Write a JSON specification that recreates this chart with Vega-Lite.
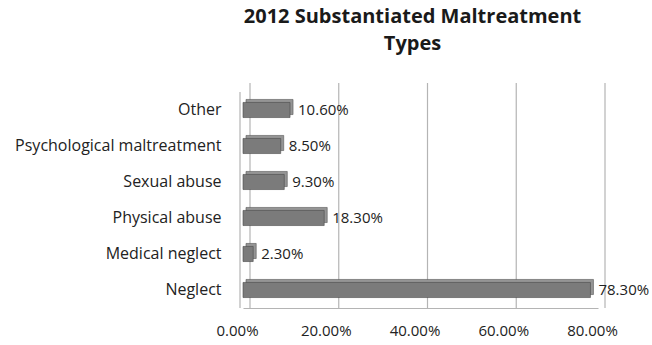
{
  "$schema": "https://vega.github.io/schema/vega-lite/v6.json",
  "autosize": "none",
  "width": 355,
  "height": 216,
  "padding": {"left": 243, "top": 92, "right": 54, "bottom": 37},
  "background": "white",
  "view": {"stroke": null},
  "title": {
    "text": ["2012 Substantiated Maltreatment", "Types"],
    "font": "Open Sans",
    "fontSize": 20,
    "fontWeight": "bold",
    "color": "#1a1a1a",
    "anchor": "middle",
    "frame": "group",
    "lineHeight": 27,
    "offset": 28,
    "dx": -8
  },
  "data": {
    "values": [
      {"type": "Neglect", "pct": 78.3, "label": "78.30%"},
      {"type": "Medical neglect", "pct": 2.3, "label": "2.30%"},
      {"type": "Physical abuse", "pct": 18.3, "label": "18.30%"},
      {"type": "Sexual abuse", "pct": 9.3, "label": "9.30%"},
      {"type": "Psychological maltreatment", "pct": 8.5, "label": "8.50%"},
      {"type": "Other", "pct": 10.6, "label": "10.60%"}
    ]
  },
  "encoding": {
    "y": {
      "field": "type",
      "type": "nominal",
      "sort": ["Other", "Psychological maltreatment", "Sexual abuse", "Physical abuse", "Medical neglect", "Neglect"],
      "scale": {"paddingInner": 0.58, "paddingOuter": 0.29},
      "axis": {
        "title": null,
        "domain": false,
        "ticks": false,
        "labelFont": "Open Sans",
        "labelFontSize": 16,
        "labelColor": "#222222",
        "labelPadding": 22,
        "labelLimit": 300
      }
    }
  },
  "layer": [
    {
      "data": {"values": [{"t": 0}, {"t": 20}, {"t": 40}, {"t": 60}, {"t": 80}]},
      "mark": {"type": "rule", "color": "#b4b4b4", "strokeWidth": 1.2, "xOffset": 7, "yOffset": -9, "y2Offset": -4},
      "encoding": {"x": {"field": "t", "type": "quantitative", "scale": {"domain": [0, 80], "nice": false}}, "y": null}
    },
    {
      "data": {"values": [{"t": 0}]},
      "mark": {"type": "rule", "color": "#b4b4b4", "strokeWidth": 1.2, "xOffset": -3, "yOffset": 0, "y2Offset": 3},
      "encoding": {"x": {"field": "t", "type": "quantitative"}, "y": null}
    },
    {
      "mark": {"type": "bar", "color": "#959595", "stroke": "#555555", "strokeWidth": 0.6, "xOffset": 3, "yOffset": -3},
      "encoding": {
        "x": {"field": "pct", "type": "quantitative"}
      }
    },
    {
      "mark": {"type": "bar", "color": "#7b7b7b", "stroke": "#4a4a4a", "strokeWidth": 0.6},
      "encoding": {
        "x": {
          "field": "pct",
          "type": "quantitative",
          "scale": {"domain": [0, 80], "nice": false},
          "axis": {
            "title": null,
            "values": [0, 20, 40, 60, 80],
            "labelExpr": "format(datum.value, '.2f') + '%'",
            "grid": false,
            "ticks": false,
            "domain": true,
            "domainColor": "#b4b4b4",
            "domainWidth": 1.2,
            "labelFont": "Open Sans",
            "labelFontSize": 15,
            "labelColor": "#222222",
            "labelPadding": 15,
            "labelOffset": -6,
            "labelFlush": false
          }
        }
      }
    },
    {
      "mark": {"type": "text", "align": "left", "dx": 8, "font": "Open Sans", "fontSize": 15, "color": "#222222"},
      "encoding": {
        "x": {"field": "pct", "type": "quantitative"},
        "text": {"field": "label", "type": "nominal"}
      }
    }
  ]
}
